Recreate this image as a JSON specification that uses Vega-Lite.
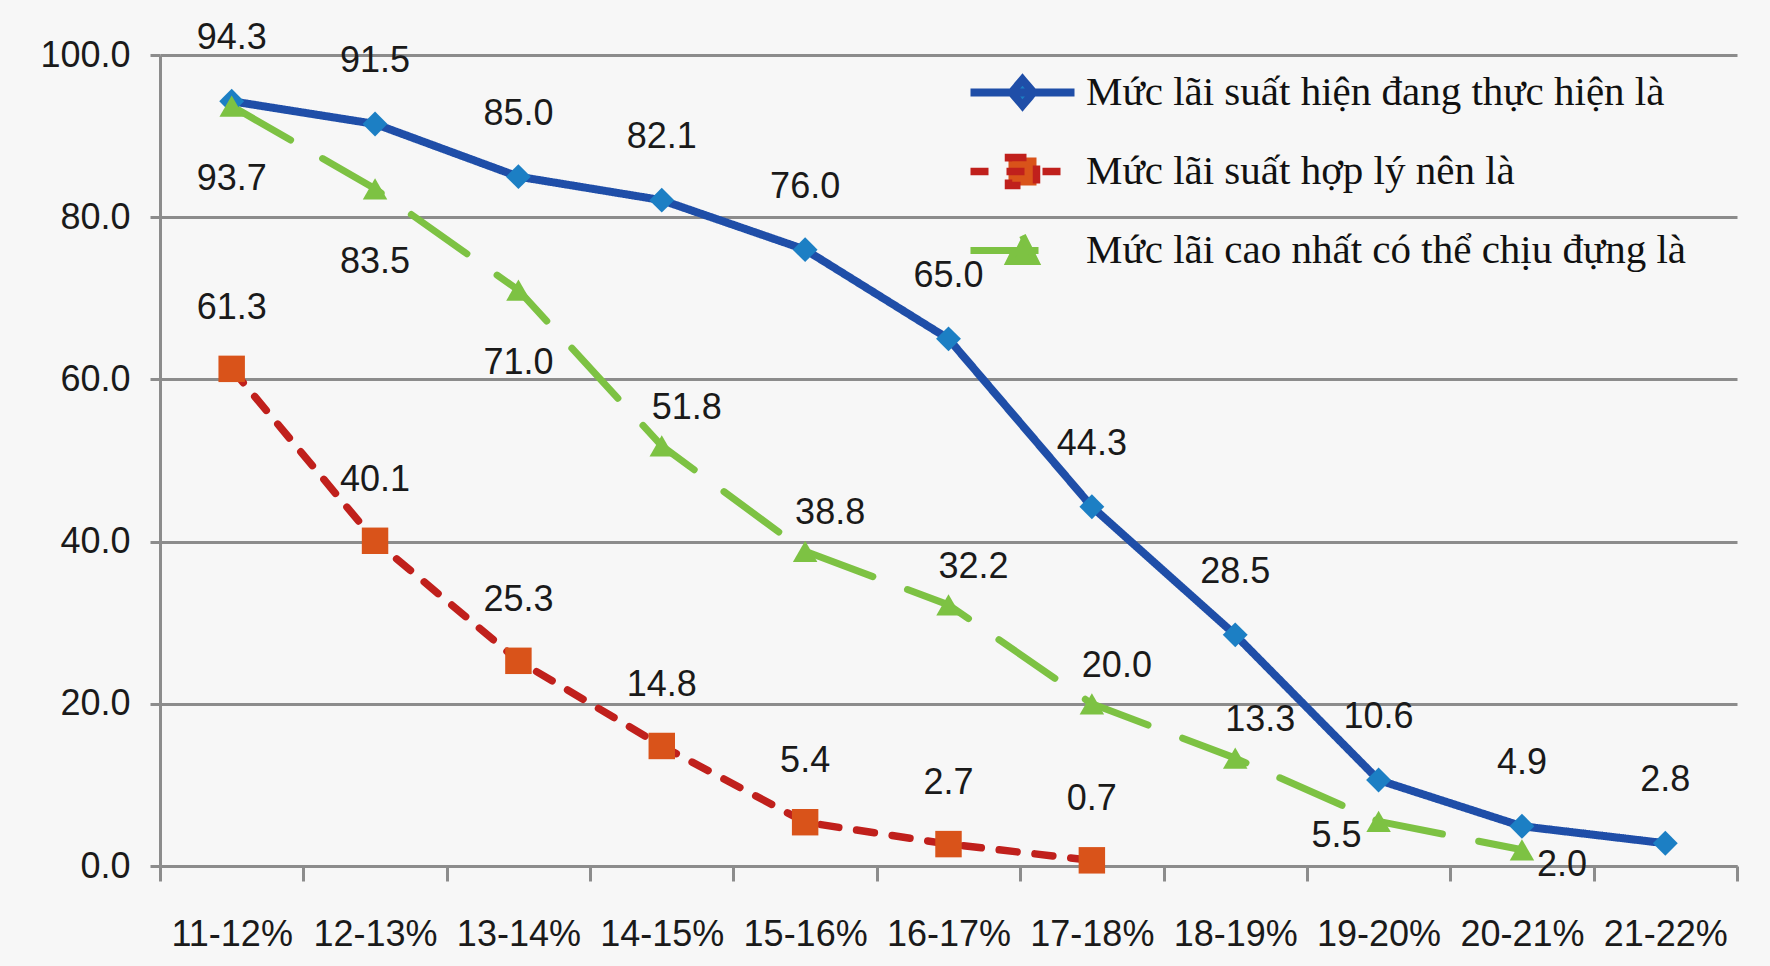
{
  "$schema": "https://vega.github.io/schema/vega-lite/v6.json",
  "width": 1577,
  "height": 811,
  "autosize": {"type": "none"},
  "padding": {"left": 160, "top": 55, "right": 33, "bottom": 100},
  "background": "#F7F7F7",
  "config": {
    "view": {"stroke": null},
    "font": "Liberation Sans",
    "legend": {
      "title": null,
      "orient": "none",
      "legendX": 842,
      "legendY": 17,
      "padding": 0,
      "symbolSize": 400,
      "symbolOpacity": 1,
      "labelFont": "Liberation Serif",
      "labelFontSize": 41,
      "labelColor": "#111111",
      "labelOffset": 43,
      "labelLimit": 0,
      "rowPadding": 20
    }
  },
  "data": {
    "values": [
      {"cat": "11-12%", "series": "Mức lãi  suất hiện đang thực hiện là", "value": 94.3},
      {"cat": "12-13%", "series": "Mức lãi  suất hiện đang thực hiện là", "value": 91.5},
      {"cat": "13-14%", "series": "Mức lãi  suất hiện đang thực hiện là", "value": 85.0},
      {"cat": "14-15%", "series": "Mức lãi  suất hiện đang thực hiện là", "value": 82.1},
      {"cat": "15-16%", "series": "Mức lãi  suất hiện đang thực hiện là", "value": 76.0},
      {"cat": "16-17%", "series": "Mức lãi  suất hiện đang thực hiện là", "value": 65.0},
      {"cat": "17-18%", "series": "Mức lãi  suất hiện đang thực hiện là", "value": 44.3},
      {"cat": "18-19%", "series": "Mức lãi  suất hiện đang thực hiện là", "value": 28.5},
      {"cat": "19-20%", "series": "Mức lãi  suất hiện đang thực hiện là", "value": 10.6},
      {"cat": "20-21%", "series": "Mức lãi  suất hiện đang thực hiện là", "value": 4.9},
      {"cat": "21-22%", "series": "Mức lãi  suất hiện đang thực hiện là", "value": 2.8},
      {"cat": "11-12%", "series": "Mức lãi  suất hợp lý nên là", "value": 61.3},
      {"cat": "12-13%", "series": "Mức lãi  suất hợp lý nên là", "value": 40.1},
      {"cat": "13-14%", "series": "Mức lãi  suất hợp lý nên là", "value": 25.3},
      {"cat": "14-15%", "series": "Mức lãi  suất hợp lý nên là", "value": 14.8},
      {"cat": "15-16%", "series": "Mức lãi  suất hợp lý nên là", "value": 5.4},
      {"cat": "16-17%", "series": "Mức lãi  suất hợp lý nên là", "value": 2.7},
      {"cat": "17-18%", "series": "Mức lãi  suất hợp lý nên là", "value": 0.7},
      {"cat": "11-12%", "series": "Mức lãi  cao nhất có thể chịu đựng là", "value": 93.7},
      {"cat": "12-13%", "series": "Mức lãi  cao nhất có thể chịu đựng là", "value": 83.5},
      {"cat": "13-14%", "series": "Mức lãi  cao nhất có thể chịu đựng là", "value": 71.0},
      {"cat": "14-15%", "series": "Mức lãi  cao nhất có thể chịu đựng là", "value": 51.8},
      {"cat": "15-16%", "series": "Mức lãi  cao nhất có thể chịu đựng là", "value": 38.8},
      {"cat": "16-17%", "series": "Mức lãi  cao nhất có thể chịu đựng là", "value": 32.2},
      {"cat": "17-18%", "series": "Mức lãi  cao nhất có thể chịu đựng là", "value": 20.0},
      {"cat": "18-19%", "series": "Mức lãi  cao nhất có thể chịu đựng là", "value": 13.3},
      {"cat": "19-20%", "series": "Mức lãi  cao nhất có thể chịu đựng là", "value": 5.5},
      {"cat": "20-21%", "series": "Mức lãi  cao nhất có thể chịu đựng là", "value": 2.0}
    ]
  },
  "encoding": {
    "x": {
      "field": "cat",
      "type": "ordinal",
      "sort": ["11-12%", "12-13%", "13-14%", "14-15%", "15-16%", "16-17%", "17-18%", "18-19%", "19-20%", "20-21%", "21-22%"],
      "scale": {"type": "band", "paddingInner": 0, "paddingOuter": 0},
      "axis": {
        "title": null,
        "labelAngle": 0,
        "tickBand": "extent",
        "grid": false,
        "domainColor": "#8C8C8C",
        "domainWidth": 3,
        "tickColor": "#8C8C8C",
        "tickWidth": 3,
        "tickSize": 15,
        "labelFontSize": 36,
        "labelColor": "#1a1a1a",
        "labelPadding": 36
      }
    },
    "y": {
      "field": "value",
      "type": "quantitative",
      "scale": {"domain": [0, 100], "nice": false},
      "axis": {
        "title": null,
        "values": [0, 20, 40, 60, 80, 100],
        "format": ".1f",
        "grid": true,
        "gridColor": "#8C8C8C",
        "gridWidth": 3,
        "domainColor": "#8C8C8C",
        "domainWidth": 3,
        "tickColor": "#8C8C8C",
        "tickWidth": 3,
        "tickSize": 10,
        "labelFontSize": 36,
        "labelColor": "#1a1a1a",
        "labelPadding": 20
      }
    }
  },
  "layer": [
    {
      "mark": {"type": "line", "strokeCap": "round", "strokeJoin": "round"},
      "encoding": {
        "stroke": {
          "field": "series", "type": "nominal",
          "scale": {"domain": ["Mức lãi  suất hiện đang thực hiện là", "Mức lãi  suất hợp lý nên là", "Mức lãi  cao nhất có thể chịu đựng là"], "range": ["#1F4EA8", "#C0201C", "#7DC243"]}
        },
        "strokeDash": {
          "field": "series", "type": "nominal",
          "scale": {"domain": ["Mức lãi  suất hiện đang thực hiện là", "Mức lãi  suất hợp lý nên là", "Mức lãi  cao nhất có thể chịu đựng là"], "range": [[1, 0], [18, 18], [68, 37]]}
        },
        "strokeWidth": {
          "field": "series", "type": "nominal",
          "scale": {"domain": ["Mức lãi  suất hiện đang thực hiện là", "Mức lãi  suất hợp lý nên là", "Mức lãi  cao nhất có thể chịu đựng là"], "range": [8, 7, 8]}
        }
      }
    },
    {
      "transform": [{"filter": "datum.value < 0"}],
      "mark": {"type": "point", "filled": true, "opacity": 1},
      "encoding": {
        "fill": {
          "field": "series", "type": "nominal",
          "scale": {"domain": ["Mức lãi  suất hiện đang thực hiện là", "Mức lãi  suất hợp lý nên là", "Mức lãi  cao nhất có thể chịu đựng là"], "range": ["#1C7FC4", "#D9531A", "#7DC243"]}
        },
        "shape": {
          "field": "series", "type": "nominal",
          "scale": {
            "domain": ["Mức lãi  suất hiện đang thực hiện là", "Mức lãi  suất hợp lý nên là", "Mức lãi  cao nhất có thể chịu đựng là"],
            "range": ["M-5.2,0H5.2M0,-1.3L1.1,0L0,1.3L-1.1,0Z", "M-5.2,0H5.2M-1.4,-1.4H1.4V1.4H-1.4Z", "M-5.2,0H5.2M0,-1.5L1.3,1.1L-1.3,1.1Z"]
          }
        }
      }
    },
    {
      "transform": [{"filter": {"field": "series", "equal": "Mức lãi  suất hiện đang thực hiện là"}}],
      "mark": {"type": "point", "filled": true, "opacity": 1, "strokeWidth": 0, "shape": "diamond", "size": 620},
      "encoding": {"fill": {"field": "series", "type": "nominal"}}
    },
    {
      "transform": [{"filter": {"field": "series", "equal": "Mức lãi  suất hợp lý nên là"}}],
      "mark": {"type": "point", "filled": true, "opacity": 1, "strokeWidth": 0, "shape": "square", "size": 700},
      "encoding": {"fill": {"field": "series", "type": "nominal"}}
    },
    {
      "transform": [{"filter": {"field": "series", "equal": "Mức lãi  cao nhất có thể chịu đựng là"}}],
      "mark": {"type": "point", "filled": true, "opacity": 1, "strokeWidth": 0, "shape": "triangle-up", "size": 600},
      "encoding": {"fill": {"field": "series", "type": "nominal"}}
    },
    {
      "transform": [{"filter": {"field": "series", "equal": "Mức lãi  suất hiện đang thực hiện là"}}],
      "mark": {"type": "text", "fontSize": 36, "color": "#1a1a1a", "baseline": "middle", "dy": -63},
      "encoding": {"text": {"field": "value", "type": "quantitative", "format": ".1f"}}
    },
    {
      "transform": [{"filter": {"field": "series", "equal": "Mức lãi  suất hợp lý nên là"}}],
      "mark": {"type": "text", "fontSize": 36, "color": "#1a1a1a", "baseline": "middle", "dy": -61},
      "encoding": {"text": {"field": "value", "type": "quantitative", "format": ".1f"}}
    },
    {
      "transform": [
        {"filter": {"field": "series", "equal": "Mức lãi  cao nhất có thể chịu đựng là"}},
        {"filter": {"field": "cat", "oneOf": ["11-12%", "12-13%", "13-14%"]}}
      ],
      "mark": {"type": "text", "fontSize": 36, "color": "#1a1a1a", "baseline": "middle", "dy": 73},
      "encoding": {"text": {"field": "value", "type": "quantitative", "format": ".1f"}}
    },
    {
      "transform": [
        {"filter": {"field": "series", "equal": "Mức lãi  cao nhất có thể chịu đựng là"}},
        {"filter": {"field": "cat", "oneOf": ["14-15%", "15-16%", "16-17%", "17-18%", "18-19%"]}}
      ],
      "mark": {"type": "text", "fontSize": 36, "color": "#1a1a1a", "baseline": "middle", "dx": 25, "dy": -38},
      "encoding": {"text": {"field": "value", "type": "quantitative", "format": ".1f"}}
    },
    {
      "transform": [
        {"filter": {"field": "series", "equal": "Mức lãi  cao nhất có thể chịu đựng là"}},
        {"filter": {"field": "cat", "equal": "19-20%"}}
      ],
      "mark": {"type": "text", "fontSize": 36, "color": "#1a1a1a", "baseline": "middle", "dx": -42, "dy": 15},
      "encoding": {"text": {"field": "value", "type": "quantitative", "format": ".1f"}}
    },
    {
      "transform": [
        {"filter": {"field": "series", "equal": "Mức lãi  cao nhất có thể chịu đựng là"}},
        {"filter": {"field": "cat", "equal": "20-21%"}}
      ],
      "mark": {"type": "text", "fontSize": 36, "color": "#1a1a1a", "baseline": "middle", "dx": 40, "dy": 15},
      "encoding": {"text": {"field": "value", "type": "quantitative", "format": ".1f"}}
    }
  ]
}
